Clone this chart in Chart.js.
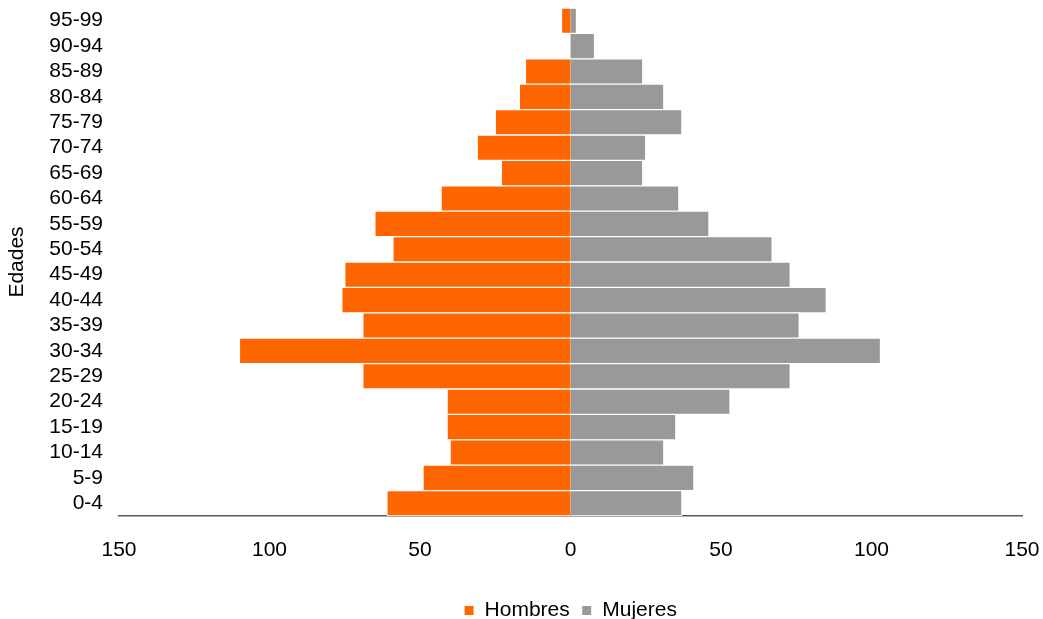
<!DOCTYPE html>
<html>
<head>
<meta charset="utf-8">
<script src="https://cdn.jsdelivr.net/npm/chart.js@4.4.1/dist/chart.umd.min.js"></script>
<style>
  html, body { margin: 0; padding: 0; overflow: hidden; background: #fff; }
  .graph { position: relative; width: 1043px; height: 631px; }
</style>
</head>
<body>
<div class="graph"><canvas id="myChart"></canvas></div>
<script>
// grupos de edad, de arriba hacia abajo
var edades = ['95-99', '90-94', '85-89', '80-84', '75-79', '70-74', '65-69', '60-64', '55-59', '50-54',
              '45-49', '40-44', '35-39', '30-34', '25-29', '20-24', '15-19', '10-14', '5-9', '0-4'];
var hombres = [3, 0, 15, 17, 25, 31, 23, 43, 65, 59, 75, 76, 69, 110, 69, 41, 41, 40, 49, 61];
var mujeres = [2, 8, 24, 31, 37, 25, 24, 36, 46, 67, 73, 85, 76, 103, 73, 53, 35, 31, 41, 37];
var xTicks = [-150, -100, -50, 0, 50, 100, 150];

var fuente = 'Liberation Sans, Arial, sans-serif';

var ctx = document.getElementById('myChart').getContext('2d');
var myChart = new Chart(ctx, {
    type: 'bar',
    data: {
        labels: edades,
        datasets: [{
            label: 'Hombres',
            data: hombres.map(function (v) { return -v; }),
            backgroundColor: '#FF6600',
            borderColor: '#ffffff',
            borderWidth: 1,
            categoryPercentage: 1,
            barPercentage: 1
        },
        {
            label: 'Mujeres',
            data: mujeres,
            backgroundColor: '#999999',
            borderColor: '#ffffff',
            borderWidth: 1,
            categoryPercentage: 1,
            barPercentage: 1
        }]
    },
    options: {
        indexAxis: 'y',
        responsive: true,
        maintainAspectRatio: false,
        animation: false,
        layout: { padding: { top: 8, right: 21, left: 0, bottom: 0 } },
        scales: {
            x: {
                type: 'linear',
                stacked: true,
                min: -150,
                max: 150,
                afterBuildTicks: function (s) {
                    s.ticks = xTicks.map(function (v) { return { value: v }; });
                },
                afterFit: function (s) {
                    s.height = 72;
                    s.paddingLeft = 0;
                    s.paddingRight = 0;
                },
                grid: { display: false, drawTicks: false },
                border: { display: true, color: '#595959', width: 1.5 },
                ticks: {
                    padding: 22,
                    color: '#000',
                    font: { family: fuente, size: 21 },
                    maxRotation: 0,
                    callback: function (v) { return Math.abs(v); }
                }
            },
            y: {
                stacked: true,
                afterFit: function (s) {
                    s.width = 119;
                    s.paddingTop = 0;
                    s.paddingBottom = 0;
                },
                grid: { display: false, drawTicks: false },
                border: { display: false },
                ticks: {
                    padding: 16,
                    autoSkip: false,
                    color: '#000',
                    font: { family: fuente, size: 21 }
                },
                title: {
                    display: true,
                    text: 'Edades',
                    color: '#000',
                    font: { family: fuente, size: 21 },
                    padding: { top: 5, bottom: 0 }
                }
            }
        },
        plugins: {
            tooltip: { enabled: false },
            legend: {
                position: 'bottom',
                fullSize: false,
                labels: {
                    boxWidth: 10,
                    boxHeight: 10,
                    padding: 12,
                    color: '#000',
                    font: { family: fuente, size: 21 }
                }
            }
        }
    }
});
</script>
</body>
</html>
